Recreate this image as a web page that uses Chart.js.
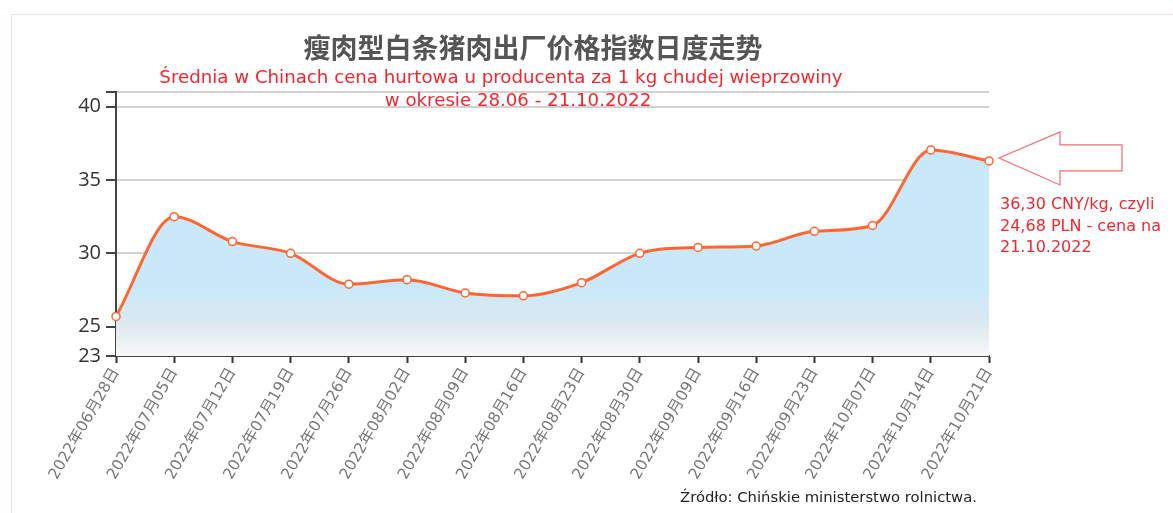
<!DOCTYPE html>
<html>
<head>
<meta charset="utf-8">
<script src="https://cdn.jsdelivr.net/npm/chart.js@4/dist/chart.umd.min.js"></script>
<style>
  body { margin: 0; background: #fff; }
  #wrap { position: relative; width: 1173px; height: 513px; }
  #frame { position: absolute; left: 11px; top: 14px; width: 1170px; height: 510px;
           border-left: 1px solid #f6dcdc; border-top: 1px solid #f6dcdc; }
  canvas { position: absolute; left: 0; top: 0; }
</style>
</head>
<body>
<div id="wrap">
  <div id="frame"></div>
  <canvas id="myChart" width="1173" height="513"></canvas>
</div>
<script>
const dates = ['2022年06月28日','2022年07月05日','2022年07月12日','2022年07月19日','2022年07月26日',
  '2022年08月02日','2022年08月09日','2022年08月16日','2022年08月23日','2022年08月30日',
  '2022年09月09日','2022年09月16日','2022年09月23日','2022年10月07日','2022年10月14日','2022年10月21日']
const prices = [25.7, 32.5, 30.8, 30.0, 27.9, 28.2, 27.3, 27.1, 28.0, 30.0, 30.4, 30.5, 31.5, 31.9, 37.05, 36.3]
const yTicks = [23, 25, 30, 35, 40, 41]
const yLabels = ['23', '25', '30', '35', '40', '']

const mainTitle = '瘦肉型白条猪肉出厂价格指数日度走势'
const subTitle = ['Średnia w Chinach cena hurtowa u producenta za 1 kg chudej wieprzowiny', 'w okresie 28.06 - 21.10.2022']
const note = ['36,30 CNY/kg, czyli', '24,68 PLN - cena na', '21.10.2022']
const source = 'Źródło: Chińskie ministerstwo rolnictwa.'

var ctx = document.getElementById('myChart').getContext('2d');

function areaFill(context) {
  const area = context.chart.chartArea
  if (!area) return '#c9e9fa'
  const g = context.chart.ctx.createLinearGradient(0, area.top, 0, area.bottom)
  g.addColorStop(0, '#c9e9fa')
  g.addColorStop(0.74, '#c9e9fa')
  g.addColorStop(0.88, '#dde9ef')
  g.addColorStop(1, '#f8f8f8')
  return g
}

// titles, arrow and notes
const extras = {
  id: 'extras',
  afterDraw(chart) {
    const c = chart.ctx
    c.save()
    c.textAlign = 'center'
    c.textBaseline = 'middle'
    c.fillStyle = '#555'
    c.font = 'bold 27px "Noto Sans CJK SC"'
    c.fillText(mainTitle, 533, 48)
    c.fillStyle = '#f2262e'
    c.font = '18.2px "DejaVu Sans"'
    c.fillText(subTitle[0], 501, 78)
    c.fillText(subTitle[1], 518, 101)

    // arrow pointing at the last point
    const meta = chart.getDatasetMeta(0)
    const last = meta.data[meta.data.length - 1]
    const tx = last.x + 10, ty = last.y - 3
    c.strokeStyle = '#f46a70'
    c.lineWidth = 1.2
    c.beginPath()
    c.moveTo(tx, ty)
    c.lineTo(tx + 61, ty - 26)
    c.lineTo(tx + 61, ty - 13)
    c.lineTo(tx + 123, ty - 13)
    c.lineTo(tx + 123, ty + 13)
    c.lineTo(tx + 61, ty + 13)
    c.lineTo(tx + 61, ty + 27)
    c.closePath()
    c.stroke()

    c.textAlign = 'left'
    c.fillStyle = '#f2262e'
    c.font = '16px "DejaVu Sans"'
    note.forEach((t, i) => c.fillText(t, 1000, 205 + i * 21.5))

    c.fillStyle = '#222'
    c.font = '14.8px "DejaVu Sans"'
    c.fillText(source, 680, 498)
    c.restore()
  }
}

const myChart = new Chart(ctx, {
  type: 'line',
  data: {
    labels: dates,
    datasets: [{
      data: prices,
      borderColor: '#ff6633',
      borderWidth: 3,
      backgroundColor: areaFill,
      fill: 'start',
      tension: 0.4,
      cubicInterpolationMode: 'monotone',
      pointRadius: 4,
      pointBackgroundColor: '#fff',
      pointBorderColor: '#ff6633',
      pointBorderWidth: 1.5
    }]
  },
  options: {
    responsive: false,
    animation: false,
    layout: { padding: { left: 0, right: 184, top: 92, bottom: 0 } },
    plugins: { legend: { display: false }, tooltip: { enabled: false } },
    scales: {
      x: {
        offset: false,
        afterFit(s) { s.height = 157 },
        grid: { drawOnChartArea: false, drawTicks: true, tickLength: 7, tickColor: '#333', tickWidth: 2 },
        border: { color: '#444', width: 2 },
        ticks: {
          autoSkip: false, maxRotation: 60, minRotation: 60, padding: 2,
          color: '#777', font: { family: '"DejaVu Sans", "Noto Sans CJK SC"', size: 15.5 }
        }
      },
      y: {
        min: 23, max: 41,
        afterFit(s) { s.width = 116 },
        afterBuildTicks(s) { s.ticks = yTicks.map(v => ({ value: v })) },
        grid: { color: '#d2d2d2', lineWidth: 2, tickLength: 10, tickColor: '#444', tickWidth: 2 },
        border: { color: '#444', width: 2 },
        ticks: {
          padding: 5, color: '#333',
          font: { family: '"Open Sans"', size: 20 },
          callback: (v, i) => yLabels[i]
        }
      }
    }
  },
  plugins: [extras]
});
</script>
</body>
</html>
